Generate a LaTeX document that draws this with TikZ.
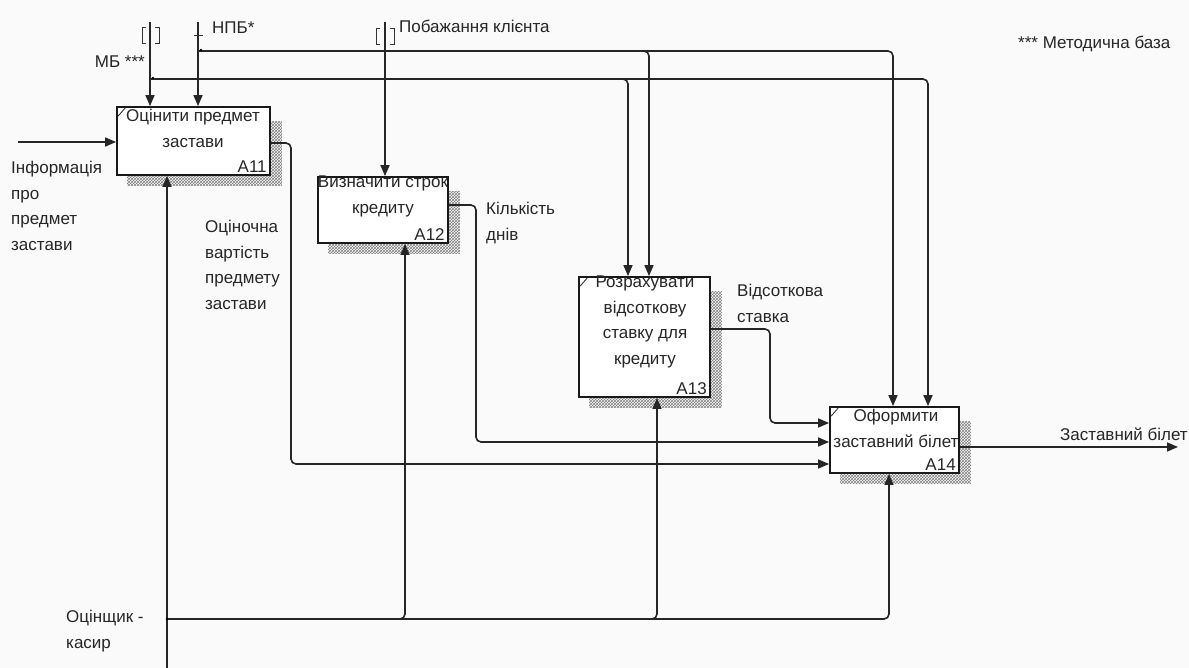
\documentclass[tikz,border=0pt]{standalone}
\usepackage{fontspec}
\setmainfont{Liberation Sans}
\usetikzlibrary{patterns,arrows.meta,backgrounds}
\begin{document}
\begin{tikzpicture}[x=1pt,y=-1pt,
  lbl/.style={font=\fontsize{17}{25.5}\selectfont, inner sep=0pt, text=black!85},
  box/.style={draw=black!90, line width=1.8pt, fill=white, inner sep=0pt},
  ln/.style={draw=black!85, line width=1.6pt, rounded corners=5pt},
  arr/.style={ln, -{Triangle[length=11pt,width=9pt]}},
  shd/.style={pattern=crosshatch, pattern color=black!50},
  tick/.style={draw=black!80, line width=0.9pt}
]
\useasboundingbox (0,0) rectangle (1189,668);

% boxes
\node[box, minimum width=153pt, minimum height=68pt] (a11) at (193.5,141) {};
\node[box, minimum width=130pt, minimum height=66pt] (a12) at (383,210) {};
\node[box, minimum width=131pt, minimum height=120pt] (a13) at (644.5,337) {};
\node[box, minimum width=129pt, minimum height=66pt] (a14) at (894.5,440) {};

\begin{scope}[on background layer]
  \fill[black!2] (0,0) rectangle (1189,668);
  \foreach \b in {a11,a12,a13,a14}{
    \fill[shd] ([xshift=11pt,yshift=-15pt]\b.north west) rectangle ([xshift=11pt,yshift=-10pt]\b.south east);
  }
\end{scope}

% corner ticks
\foreach \b in {a11,a13,a14}{
  \draw[tick] ([xshift=2pt,yshift=-10pt]\b.north west) -- ++(7,-8);
}

% box texts
\node[lbl, anchor=north, align=center] (t11) at (193,109) {Оцінити предмет\\застави};
\node[lbl, anchor=south east] (n11) at ([xshift=-4pt,yshift=3pt]a11.south east) {A11};
\node[lbl, anchor=north, align=center] (t12) at (383,176) {Визначити строк\\кредиту};
\node[lbl, anchor=south east] (n12) at ([xshift=-4pt,yshift=3pt]a12.south east) {A12};
\node[lbl, anchor=north, align=center] (t13) at (645,276) {Розрахувати\\відсоткову\\ставку для\\кредиту};
\node[lbl, anchor=south east] (n13) at ([xshift=-4pt,yshift=3pt]a13.south east) {A13};
\node[lbl, anchor=north, align=center] (t14) at (896,409) {Оформити\\заставний білет};
\node[lbl, anchor=south east] (n14) at ([xshift=-4pt,yshift=3pt]a14.south east) {A14};

% input
\coordinate (infoS) at (18,142);
\draw[arr] (infoS) -- (infoS -| a11.west);
\node[lbl, anchor=north west, align=left] (info) at (11,161) {Інформація\\про\\предмет\\застави};

% МБ control
\coordinate (mbS) at (150,22);
\draw[arr] (mbS) -- (mbS |- a11.north);
\coordinate (mbJ) at (150,79);
\coordinate (mbE) at (928,79);
\coordinate (mbB) at (628,79);
\draw[arr] (mbJ) -- (mbE) -- (mbE |- a14.north);
\draw[arr] ([xshift=-8pt]mbB) -- (mbB) -- (mbB |- a13.north);
\fill[black] (mbJ) ++(3,-1) circle (1.4pt);
\draw[tick] (146,27) -- (142,27) -- (142,43) -- (146,43);
\draw[tick] (155,27) -- (159,27) -- (159,43) -- (155,43);
\node[lbl, anchor=base east] (mb) at (145,68) {МБ ***};

% НПБ control
\coordinate (npbS) at (198,22);
\draw[arr] (npbS) -- (npbS |- a11.north);
\draw[tick] (194,35) -- (203,35);
\coordinate (npbJ) at (198,51);
\coordinate (npbE) at (893,51);
\coordinate (npbB) at (649,51);
\draw[arr] (npbJ) -- (npbE) -- (npbE |- a14.north);
\draw[arr] ([xshift=-8pt]npbB) -- (npbB) -- (npbB |- a13.north);
\fill[black] (npbJ) ++(3,-1) circle (1.4pt);
\node[lbl, anchor=base west] (npb) at (212,34) {НПБ*};

% Побажання клієнта
\coordinate (pbS) at (385,22);
\draw[arr] (pbS) -- (pbS |- a12.north);
\draw[tick] (380,28) -- (376,28) -- (376,44) -- (380,44);
\draw[tick] (390,28) -- (394,28) -- (394,44) -- (390,44);
\node[lbl, anchor=base west] (pb) at (399,33) {Побажання клієнта};

\node[lbl, anchor=base west] (mbase) at (1018,49) {*** Методична база};

% outputs
\coordinate (o1) at (291,143);
\coordinate (o1b) at (291,464);
\draw[arr] (o1 -| a11.east) -- (o1) -- (o1b) -- (o1b -| a14.west);
\node[lbl, anchor=north west, align=left] (ov) at (205,220) {Оціночна\\вартість\\предмету\\застави};

\coordinate (o2) at (476,205);
\coordinate (o2b) at (476,442);
\draw[arr] (o2 -| a12.east) -- (o2) -- (o2b) -- (o2b -| a14.west);
\node[lbl, anchor=north west, align=left] (kd) at (486,202) {Кількість\\днів};

\coordinate (o3) at (770,329);
\coordinate (o3b) at (770,423);
\draw[arr] (o3 -| a13.east) -- (o3) -- (o3b) -- (o3b -| a14.west);
\node[lbl, anchor=north west, align=left] (vs) at (737,284) {Відсоткова\\ставка};

\coordinate (o4) at (1178,447);
\draw[arr] (o4 -| a14.east) -- (o4);
\node[lbl, anchor=base west] (zb) at (1060,440) {Заставний білет};

% mechanism
\coordinate (mS) at (167,668);
\draw[arr] (mS) -- (mS |- a11.south);
\coordinate (mJ) at (167,619);
\coordinate (mE) at (889,619);
\draw[arr] (mJ) -- (mE) -- (mE |- a14.south);
\coordinate (m2) at (405,619);
\coordinate (m3) at (657,619);
\draw[arr] ([xshift=-8pt]m2) -- (m2) -- (m2 |- a12.south);
\draw[arr] ([xshift=-8pt]m3) -- (m3) -- (m3 |- a13.south);
\fill[black] (mJ) circle (1.4pt);
\node[lbl, anchor=north west, align=left] (oc) at (66,610) {Оцінщик -\\касир};
\end{tikzpicture}
\end{document}
